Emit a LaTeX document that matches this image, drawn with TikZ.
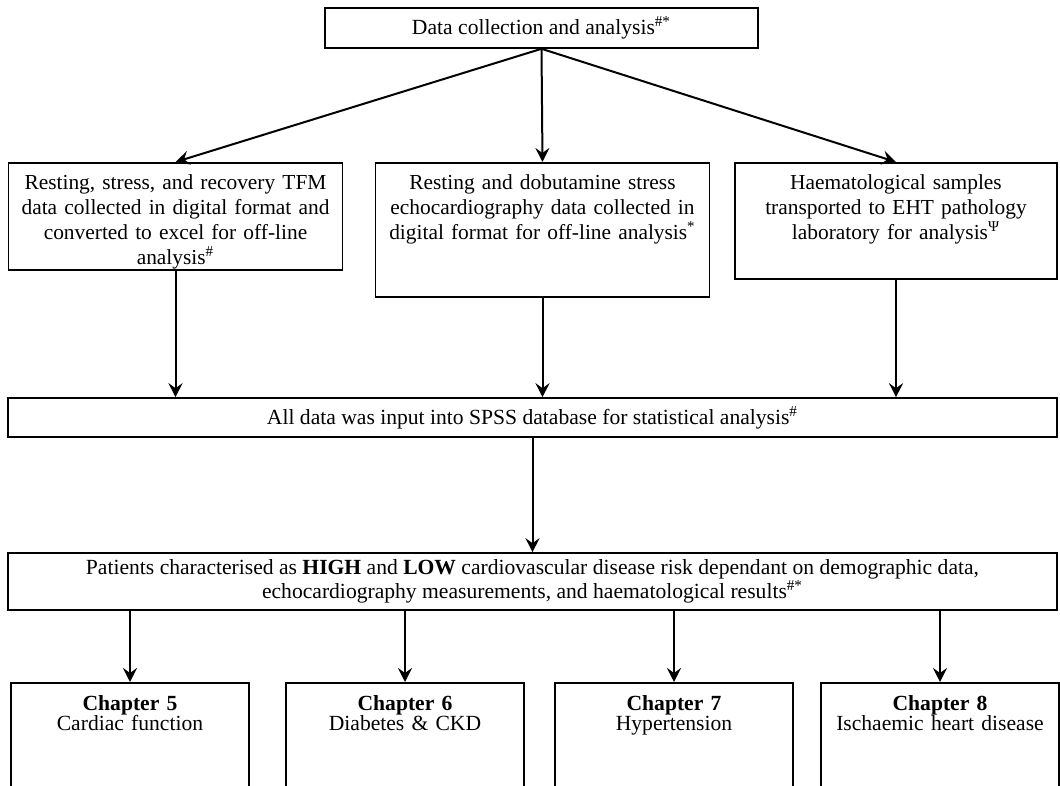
\documentclass[tikz,border=0pt]{standalone}
\usepackage{fontspec}
\setmainfont{Liberation Serif}
\usetikzlibrary{arrows.meta}

\begin{document}
\begin{tikzpicture}[x=0.5pt, y=-0.5pt,
  headbox/.style={draw, line width=0.8pt, minimum width=216.5pt, minimum height=20pt, inner sep=2pt, font=\fontsize{10.8}{12}\selectfont},
  stagebox/.style={draw, line width=0.8pt, anchor=north, align=center, text width=163pt, inner xsep=2pt, inner ysep=3pt, text height=10.5pt, font=\fontsize{10.7}{12.5}\selectfont},
  widebox/.style={draw, line width=0.8pt, minimum width=524.5pt, align=center, inner sep=2pt, font=\fontsize{10.8}{10}\selectfont},
  chapbox/.style={draw, line width=0.8pt, anchor=north, align=center, text width=113pt, inner sep=3pt, text height=11pt, text depth=80pt, font=\fontsize{10.8}{10}\selectfont},
  arrow/.style={-{Stealth[length=7pt, width=7pt, inset=2.5pt]}, line width=1pt}
]
\useasboundingbox (0,0) rectangle (1060,786);
\clip (0,0) rectangle (1060,786);

% Top: collection
\node[headbox] (head) at (541.5,28) {Data collection and analysis\textsuperscript{\#*}};

% Row 1: three data streams
\node[stagebox, text depth=37pt] (tfm) at (175.5,162) {Resting, stress, and recovery TFM\\data collected in digital format and\\converted to excel for off-line\\analysis\textsuperscript{\#}};
\node[stagebox, text depth=50.5pt] (echo) at (542.5,162) {Resting and dobutamine stress\\echocardiography data collected in\\digital format for off-line analysis\textsuperscript{*}};
\node[stagebox, text depth=41.5pt, text width=157pt] (blood) at (896,162) {Haematological samples\\transported to EHT pathology\\laboratory for analysis\textsuperscript{Ψ}};

\draw[arrow] (head.south) -- (tfm.north);
\draw[arrow] (head.south) -- (echo.north);
\draw[arrow] (head.south) -- (blood.north);

% Row 2: database
\node[widebox, minimum height=19.5pt] (spss) at (532.5,417.5) {All data was input into SPSS database for statistical analysis\textsuperscript{\#}};

\draw[arrow] (tfm.south) -- (tfm.south |- spss.north);
\draw[arrow] (echo.south) -- (echo.south |- spss.north);
\draw[arrow] (blood.south) -- (blood.south |- spss.north);

% Row 3: risk groups
\node[widebox, minimum height=28.5pt] (risk) at (532.5,581.5) {Patients characterised as \textbf{HIGH} and \textbf{LOW} cardiovascular disease risk dependant on demographic data,\\echocardiography measurements, and haematological results\textsuperscript{\#*}};

\draw[arrow] (spss.south) -- (risk.north);

% Row 4: chapters
\node[chapbox] (ch5) at (130,682) {\textbf{Chapter 5}\\Cardiac function};
\node[chapbox] (ch6) at (405,682) {\textbf{Chapter 6}\\Diabetes \& CKD};
\node[chapbox] (ch7) at (674,682) {\textbf{Chapter 7}\\Hypertension};
\node[chapbox] (ch8) at (940,682) {\textbf{Chapter 8}\\Ischaemic heart disease};

\draw[arrow] (risk.south -| ch5.north) -- (ch5.north);
\draw[arrow] (risk.south -| ch6.north) -- (ch6.north);
\draw[arrow] (risk.south -| ch7.north) -- (ch7.north);
\draw[arrow] (risk.south -| ch8.north) -- (ch8.north);

\end{tikzpicture}
\end{document}
